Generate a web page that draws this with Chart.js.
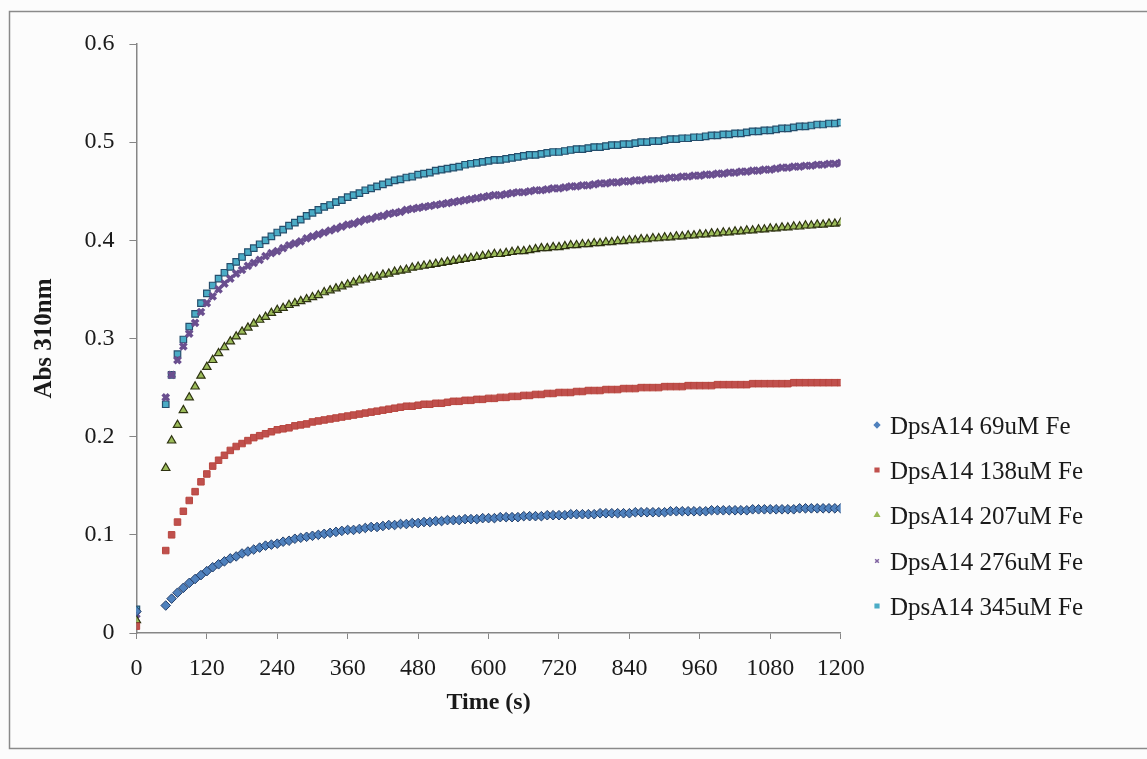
<!DOCTYPE html>
<html>
<head>
<meta charset="utf-8">
<script src="https://cdn.jsdelivr.net/npm/chart.js@4.4.1/dist/chart.umd.min.js"></script>
<style>
  html, body { margin: 0; padding: 0; background: #fcfcfc; }
  #wrap { position: relative; width: 1147px; height: 759px; }
</style>
</head>
<body>
<div id="wrap"><canvas id="absChart"></canvas></div>
<script>
// sample times (s)
const times = [0,
  50, 60, 70, 80, 90, 100, 110, 120, 130, 140, 150, 160, 170, 180, 190, 200, 210, 220, 230, 240,
  250, 260, 270, 280, 290, 300, 310, 320, 330, 340, 350, 360, 370, 380, 390, 400, 410, 420, 430, 440,
  450, 460, 470, 480, 490, 500, 510, 520, 530, 540, 550, 560, 570, 580, 590, 600, 610, 620, 630, 640,
  650, 660, 670, 680, 690, 700, 710, 720, 730, 740, 750, 760, 770, 780, 790, 800, 810, 820, 830, 840,
  850, 860, 870, 880, 890, 900, 910, 920, 930, 940, 950, 960, 970, 980, 990, 1000, 1010, 1020, 1030, 1040,
  1050, 1060, 1070, 1080, 1090, 1100, 1110, 1120, 1130, 1140, 1150, 1160, 1170, 1180, 1190, 1200];

// Abs 310nm per iron concentration
const fe69 = [0.022,
  .028, .035, .041, .046, .051, .055, .059, .063, .067, .070, .073, .076, .078, .081, .083, .085, .087, .089, .090, .091,
  .093, .094, .096, .097, .098, .099, .100, .101, .102, .103, .104, .105, .105, .106, .107, .108, .108, .109, .110, .110,
  .111, .111, .112, .112, .113, .113, .114, .114, .115, .115, .115, .116, .116, .116, .117, .117, .117, .118, .118, .118,
  .118, .119, .119, .119, .119, .120, .120, .120, .120, .121, .121, .121, .121, .121, .122, .122, .122, .122, .122, .122,
  .123, .123, .123, .123, .123, .123, .124, .124, .124, .124, .124, .124, .124, .125, .125, .125, .125, .125, .125, .125,
  .126, .126, .126, .126, .126, .126, .126, .126, .127, .127, .127, .127, .127, .127, .127, .127];

const fe138 = [0.007,
  .084, .100, .113, .124, .135, .144, .154, .162, .170, .176, .181, .186, .190, .193, .196, .199, .201, .203, .205, .207,
  .208, .209, .211, .212, .213, .215, .216, .217, .218, .219, .220, .221, .222, .223, .224, .225, .226, .227, .228, .229,
  .230, .231, .231, .232, .233, .233, .234, .234, .235, .236, .236, .237, .237, .238, .238, .239, .239, .240, .240, .241,
  .241, .242, .242, .243, .243, .244, .244, .245, .245, .245, .246, .246, .247, .247, .247, .248, .248, .248, .249, .249,
  .249, .250, .250, .250, .250, .251, .251, .251, .251, .252, .252, .252, .252, .252, .253, .253, .253, .253, .253, .253,
  .254, .254, .254, .254, .254, .254, .254, .255, .255, .255, .255, .255, .255, .255, .255, .255];

const fe207 = [0.013,
  .168, .196, .212, .227, .240, .251, .262, .271, .278, .285, .291, .297, .302, .307, .311, .315, .319, .322, .326, .329,
  .331, .334, .336, .338, .340, .342, .344, .347, .349, .351, .353, .355, .357, .359, .360, .362, .363, .365, .366, .368,
  .369, .370, .372, .373, .374, .375, .376, .377, .378, .379, .380, .381, .382, .383, .384, .385, .386, .386, .387, .388,
  .389, .389, .390, .391, .392, .392, .393, .393, .394, .395, .395, .396, .396, .397, .397, .398, .398, .399, .399, .400,
  .400, .401, .401, .402, .402, .403, .403, .404, .404, .405, .405, .406, .406, .407, .407, .408, .408, .409, .409, .410,
  .410, .411, .411, .412, .412, .413, .413, .414, .414, .415, .415, .416, .416, .417, .417, .418];

const fe276 = [0.019,
  .240, .263, .278, .292, .305, .316, .327, .336, .343, .350, .356, .361, .366, .370, .374, .377, .380, .384, .387, .389,
  .392, .395, .397, .399, .402, .404, .406, .408, .410, .412, .414, .416, .417, .419, .421, .422, .424, .425, .427, .428,
  .429, .431, .432, .433, .434, .435, .436, .437, .438, .439, .440, .441, .442, .443, .444, .445, .446, .446, .447, .448,
  .449, .449, .450, .451, .451, .452, .453, .453, .454, .455, .455, .456, .456, .457, .458, .458, .459, .459, .460, .460,
  .461, .461, .462, .462, .463, .463, .464, .464, .465, .465, .466, .466, .467, .467, .468, .468, .469, .469, .470, .470,
  .471, .471, .472, .472, .473, .474, .474, .475, .475, .476, .476, .477, .477, .478, .478, .479];

const fe345 = [0.024,
  .233, .263, .284, .299, .312, .325, .336, .346, .354, .361, .367, .373, .378, .383, .388, .392, .396, .400, .404, .408,
  .411, .415, .418, .421, .425, .428, .431, .434, .436, .439, .441, .444, .446, .448, .451, .453, .455, .457, .459, .461,
  .462, .464, .465, .467, .468, .469, .471, .472, .473, .474, .475, .477, .478, .479, .480, .481, .482, .482, .483, .484,
  .485, .486, .487, .487, .488, .489, .490, .490, .491, .492, .493, .493, .494, .495, .495, .496, .497, .497, .498, .498,
  .499, .500, .500, .501, .501, .502, .503, .503, .504, .504, .505, .505, .506, .507, .507, .508, .508, .509, .509, .510,
  .511, .511, .512, .512, .513, .514, .514, .515, .516, .516, .517, .518, .518, .519, .519, .520];

const seriesLabels = ['DpsA14 69uM Fe', 'DpsA14 138uM Fe', 'DpsA14 207uM Fe', 'DpsA14 276uM Fe', 'DpsA14 345uM Fe'];
const seriesValues = [fe69, fe138, fe207, fe276, fe345];
const xTicks = [0, 120, 240, 360, 480, 600, 720, 840, 960, 1080, 1200];
const yTicks = [0, 0.1, 0.2, 0.3, 0.4, 0.5, 0.6];

// Excel-2007 style marker look
const markerStyles = [
  { style: 'rectRot',  fill: '#4F81BD', edge: '#243f6a', r: 4.8, bw: 1 },
  { style: 'rect',     fill: '#C0504D', edge: '#b8463f', r: 4.6, bw: 1 },
  { style: 'triangle', fill: '#9BBB59', edge: '#2e3312', r: 4.8, bw: 1.2 },
  { style: 'crossRot', fill: '#8064A2', edge: '#6a4f8f', r: 4.4, bw: 3.5 },
  { style: 'rect',     fill: '#4BACC6', edge: '#254e6c', r: 4.6, bw: 1.2 }
];
const legendRows = [427, 472, 517, 563, 608];

const FONT = "'Liberation Serif', 'Times New Roman', serif";
const TEXT = '#1a1a1a';
const AXIS = '#868686';

const datasets = seriesValues.map((vals, i) => ({
  label: seriesLabels[i],
  data: vals.map((v, k) => ({ x: times[k], y: v })),
  showLine: false,
  pointStyle: markerStyles[i].style,
  pointRadius: markerStyles[i].r,
  pointBorderWidth: markerStyles[i].bw,
  pointBackgroundColor: markerStyles[i].fill,
  pointBorderColor: markerStyles[i].edge
}));

// outer frame and background
const framePlugin = {
  id: 'frame',
  beforeDraw(chart) {
    const ctx = chart.ctx;
    ctx.save();
    ctx.fillStyle = '#fcfcfc';
    ctx.fillRect(0, 0, chart.width, chart.height);
    ctx.strokeStyle = '#8a8a8a';
    ctx.lineWidth = 1.5;
    ctx.strokeRect(9.5, 11.5, 1145, 737);
    ctx.restore();
  }
};

// legend to the right of the plot
const sideLegend = {
  id: 'sideLegend',
  afterDraw(chart) {
    const ctx = chart.ctx;
    ctx.save();
    ctx.font = '25px ' + FONT;
    ctx.textBaseline = 'middle';
    chart.data.datasets.forEach((ds, i) => {
      ctx.fillStyle = markerStyles[i].fill;
      ctx.strokeStyle = markerStyles[i].fill;
      ctx.lineWidth = 1.5;
      Chart.helpers.drawPoint(ctx, { pointStyle: ds.pointStyle, radius: 2.6, borderWidth: 1.5, rotation: 0 }, 877, legendRows[i] - 2);
      ctx.fillStyle = TEXT;
      ctx.fillText(ds.label, 890, legendRows[i]);
    });
    ctx.restore();
  }
};

new Chart(document.getElementById('absChart'), {
  type: 'scatter',
  data: { datasets },
  options: {
    responsive: true,
    maintainAspectRatio: false,
    animation: false,
    layout: { padding: { left: 0, top: 44, right: 306.3, bottom: 0 } },
    plugins: { legend: { display: false }, tooltip: { enabled: false } },
    scales: {
      x: {
        type: 'linear',
        min: 0,
        max: 1200,
        afterBuildTicks: (scale) => { scale.ticks = xTicks.map(v => ({ value: v })); },
        afterFit: (scale) => { scale.height = 126; },
        grid: { display: true, drawOnChartArea: false, drawTicks: true, tickLength: 6, color: AXIS },
        border: { color: AXIS, width: 1.5 },
        ticks: { color: TEXT, font: { family: FONT, size: 24 }, padding: 15, maxRotation: 0, callback: (v) => String(v) },
        title: { display: true, text: 'Time (s)', color: TEXT, font: { family: FONT, size: 24, weight: 'bold' }, padding: { top: 0, bottom: 42 } }
      },
      y: {
        min: 0,
        max: 0.6,
        afterBuildTicks: (scale) => { scale.ticks = yTicks.map(v => ({ value: v })); },
        afterFit: (scale) => { scale.width = 136.4; },
        grid: { display: true, drawOnChartArea: false, drawTicks: true, tickLength: 7, color: AXIS },
        border: { color: AXIS, width: 1.5 },
        ticks: { color: TEXT, font: { family: FONT, size: 24 }, padding: 15, callback: (v) => String(Math.round(v * 10) / 10) },
        title: { display: true, text: 'Abs 310nm', color: TEXT, font: { family: FONT, size: 25, weight: 'bold' }, padding: { top: 30, bottom: 0 } }
      }
    }
  },
  plugins: [framePlugin, sideLegend]
});
</script>
</body>
</html>
